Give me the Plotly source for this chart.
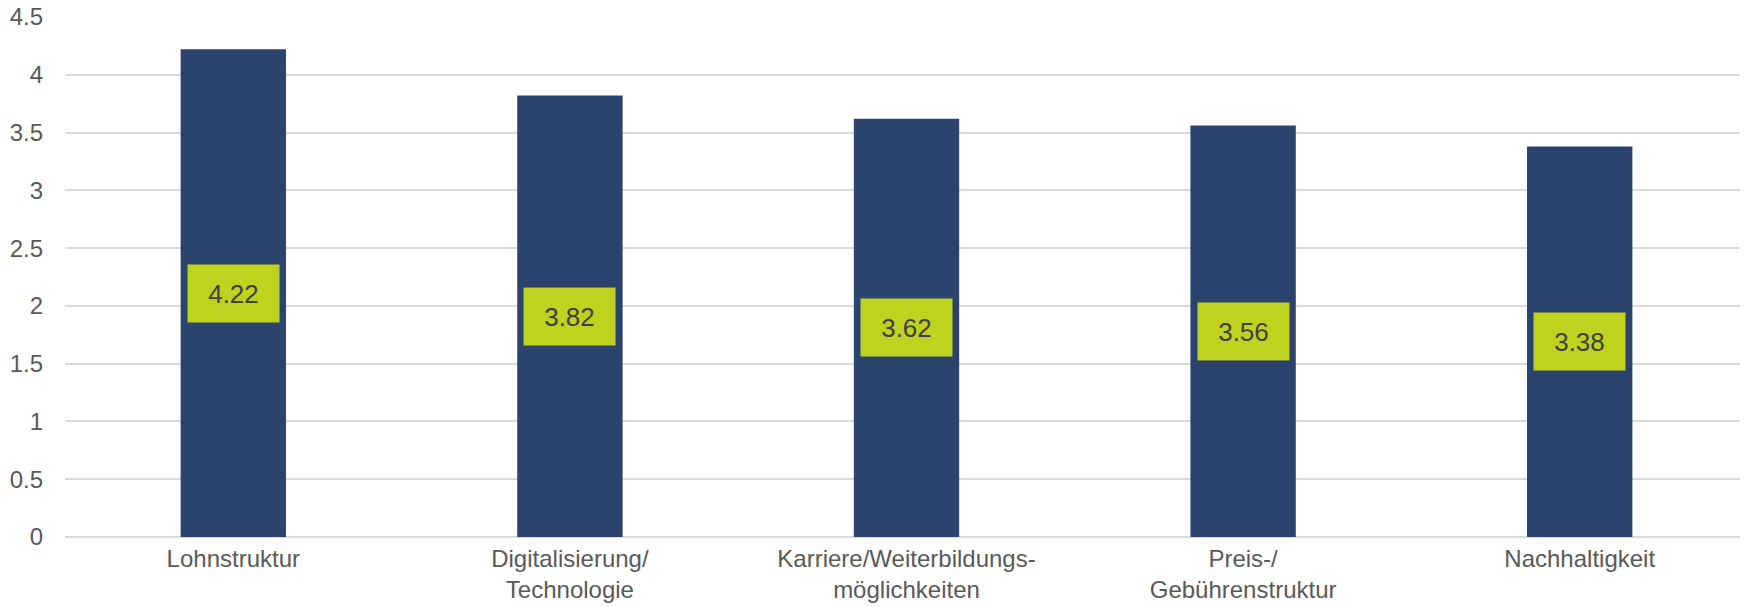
import plotly.graph_objects as go

# Data
categories = [
    "Lohnstruktur",
    "Digitalisierung/<br>Technologie",
    "Karriere/Weiterbildungs-<br>möglichkeiten",
    "Preis-/<br>Gebührenstruktur",
    "Nachhaltigkeit",
]
values = [4.22, 3.82, 3.62, 3.56, 3.38]
y_ticks = [0, 0.5, 1, 1.5, 2, 2.5, 3, 3.5, 4, 4.5]
y_tick_labels = ["0", "0.5", "1", "1.5", "2", "2.5", "3", "3.5", "4", "4.5"]

BAR_COLOR = "#2C436E"
LABEL_BG = "#BFD21F"
TEXT_GREY = "#595959"
FONT = "Liberation Sans, Arial, sans-serif"

fig = go.Figure()

fig.add_trace(go.Bar(
    x=categories,
    y=values,
    marker=dict(color=BAR_COLOR, line=dict(width=0)),
    width=0.313,
    hoverinfo="x+y",
))

# Value labels sit on a green box in the middle of each bar
for cat, val in zip(categories, values):
    fig.add_annotation(
        x=cat, y=val / 2,
        text=f"{val:.2f}",
        showarrow=False,
        bgcolor=LABEL_BG,
        width=89, height=55,
        font=dict(family=FONT, size=26, color="#404040"),
        xanchor="center", yanchor="middle",
    )

# the page body adds an 8px margin, so the figure is 8px smaller than the window
fig.update_layout(
    width=1740, height=599,
    margin=dict(l=57, r=0, t=9, b=70),
    plot_bgcolor="white",
    paper_bgcolor="white",
    showlegend=False,
    font=dict(family=FONT, size=23, color=TEXT_GREY),
    bargap=0.687,
)

fig.update_xaxes(
    showgrid=False,
    showline=False,
    ticks="",
    automargin=False,
    ticklabelstandoff=5,
    tickfont=dict(family=FONT, size=24, color=TEXT_GREY),
)
fig.update_yaxes(
    range=[0, 4.5],
    tickvals=y_ticks,
    ticktext=y_tick_labels,
    showgrid=True,
    gridcolor="#D9D9D9",
    gridwidth=1.5,
    zeroline=True,
    zerolinecolor="#D9D9D9",
    zerolinewidth=1.5,
    showline=False,
    ticks="",
    automargin=False,
    ticklabeloverflow="allow",
    ticklabelstandoff=21,
    tickfont=dict(family=FONT, size=24, color=TEXT_GREY),
)

fig.write_html("out.html")
